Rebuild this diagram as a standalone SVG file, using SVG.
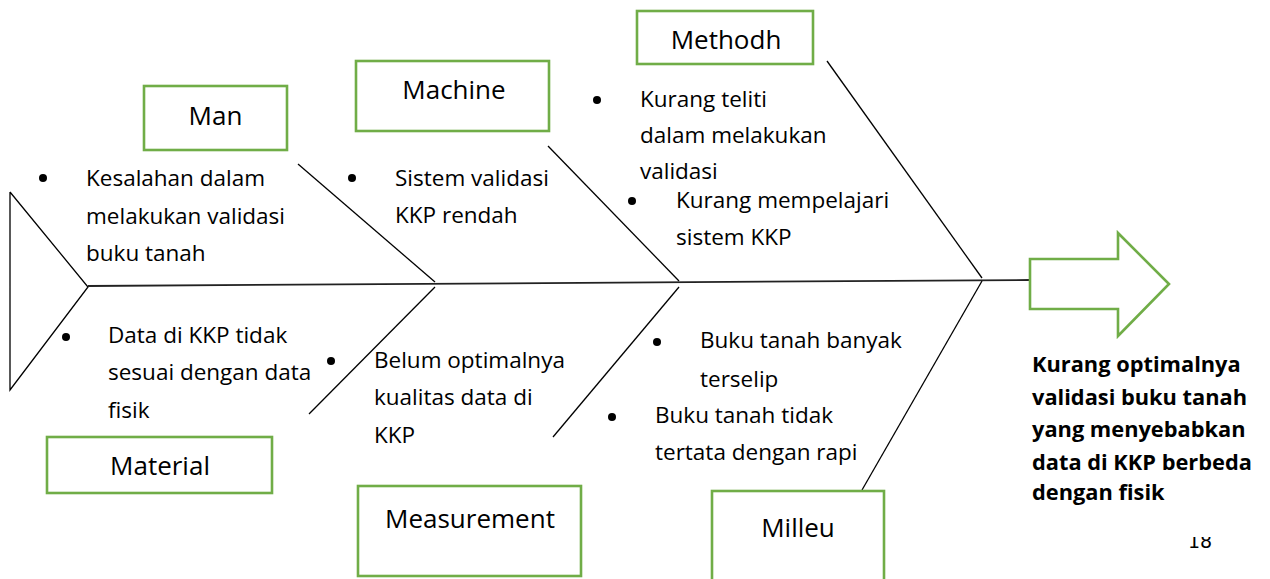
<svg xmlns="http://www.w3.org/2000/svg" width="1270" height="579" viewBox="0 0 1270 579">
<defs>
<style>
.box{fill:none;stroke:#70AD47;stroke-width:2.6}
.ln{fill:none;stroke:#000;stroke-width:1.3}
.sp{fill:none;stroke:#222;stroke-width:1.8}
.t{font-family:"Open Sans","Liberation Sans",sans-serif;font-size:22.5px;fill:#000}
.lb{font-family:"Open Sans","Liberation Sans",sans-serif;font-size:26px;fill:#000}
.b{font-family:"Open Sans","Liberation Sans",sans-serif;font-size:21.8px;font-weight:bold;fill:#000}
.pn{font-family:"DejaVu Sans",sans-serif;font-size:19px;fill:#000}
.dot{fill:#000}
</style>
<clipPath id="pg"><rect x="1180" y="537" width="50" height="20"/></clipPath>
</defs>
<rect width="1270" height="579" fill="#fff"/>
<g id="connectors">
<polyline class="ln" points="10,192 88,287 10,390 10,192"/>
<line class="sp" x1="88" y1="286" x2="1030" y2="280"/>
<line class="ln" x1="298" y1="164" x2="435" y2="282"/>
<line class="ln" x1="548" y1="146" x2="679" y2="281"/>
<line class="ln" x1="827" y1="61" x2="982" y2="278"/>
<line class="ln" x1="435" y1="287" x2="309" y2="414"/>
<line class="ln" x1="679" y1="287" x2="553" y2="437"/>
<line class="ln" x1="982" y1="281" x2="862" y2="490"/>
</g>
<g id="man">
<rect class="box" x="144" y="86" width="143" height="64"/>
<text class="lb" x="215.5" y="125" text-anchor="middle">Man</text>
<circle class="dot" cx="43" cy="178" r="4"/>
<text class="t" x="86"><tspan x="86" y="186">Kesalahan dalam</tspan><tspan x="86" y="224">melakukan validasi</tspan><tspan x="86" y="261">buku tanah</tspan></text>
</g>
<g id="machine">
<rect class="box" x="356" y="61" width="193" height="70"/>
<text class="lb" x="454" y="99" text-anchor="middle">Machine</text>
<circle class="dot" cx="352" cy="178" r="4"/>
<text class="t"><tspan x="395" y="186">Sistem validasi</tspan><tspan x="395" y="223">KKP rendah</tspan></text>
</g>
<g id="methodh">
<rect class="box" x="637" y="11" width="176" height="53"/>
<text class="lb" x="726" y="49" text-anchor="middle">Methodh</text>
<circle class="dot" cx="597" cy="100" r="4"/>
<text class="t"><tspan x="640" y="107">Kurang teliti</tspan><tspan x="640" y="143">dalam melakukan</tspan><tspan x="640" y="179">validasi</tspan></text>
<circle class="dot" cx="632" cy="201" r="4"/>
<text class="t"><tspan x="676" y="208">Kurang mempelajari</tspan><tspan x="676" y="245">sistem KKP</tspan></text>
</g>
<g id="material">
<rect class="box" x="47" y="437" width="225" height="56"/>
<text class="lb" x="160" y="475" text-anchor="middle">Material</text>
<circle class="dot" cx="66" cy="337" r="4"/>
<text class="t"><tspan x="108" y="343">Data di KKP tidak</tspan><tspan x="108" y="380">sesuai dengan data</tspan><tspan x="108" y="418">fisik</tspan></text>
</g>
<g id="measurement">
<rect class="box" x="358" y="486" width="223" height="90"/>
<text class="lb" x="470" y="528" text-anchor="middle">Measurement</text>
<circle class="dot" cx="331" cy="361" r="4"/>
<text class="t"><tspan x="374" y="368">Belum optimalnya</tspan><tspan x="374" y="405">kualitas data di</tspan><tspan x="374" y="443">KKP</tspan></text>
</g>
<g id="milleu">
<rect class="box" x="712" y="491" width="172" height="120"/>
<text class="lb" x="798" y="537" text-anchor="middle">Milleu</text>
<circle class="dot" cx="657" cy="342" r="4"/>
<text class="t"><tspan x="700" y="348">Buku tanah banyak</tspan><tspan x="700" y="387">terselip</tspan></text>
<circle class="dot" cx="612" cy="417" r="4"/>
<text class="t"><tspan x="655" y="423">Buku tanah tidak</tspan><tspan x="655" y="460">tertata dengan rapi</tspan></text>
</g>
<g id="effect">
<polygon class="box" points="1030,259 1118,259 1118,233 1169,284 1118,336 1118,309 1030,309"/>
<text class="b"><tspan x="1032" y="372">Kurang optimalnya</tspan><tspan x="1032" y="405">validasi buku tanah</tspan><tspan x="1032" y="437">yang menyebabkan</tspan><tspan x="1032" y="470">data di KKP berbeda</tspan><tspan x="1032" y="500">dengan fisik</tspan></text>
</g>
<text class="pn" x="1188" y="548" clip-path="url(#pg)">18</text>
</svg>
